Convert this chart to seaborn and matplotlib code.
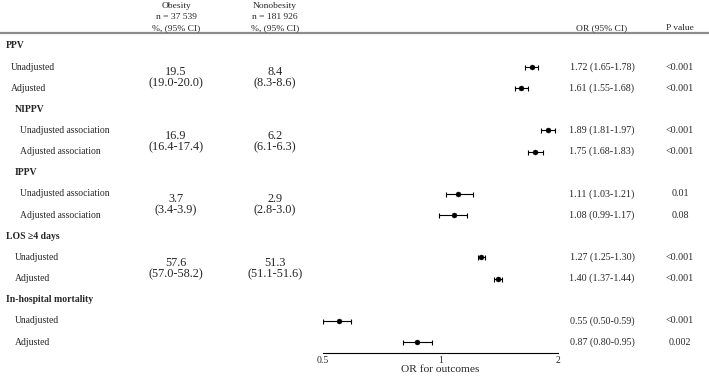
import numpy as np
import pandas as pd
import matplotlib
matplotlib.use("Agg")
import matplotlib.pyplot as plt
import matplotlib.transforms as mtransforms
from matplotlib.lines import Line2D
import seaborn as sns

# Datos de la tabla
labels = ["PPV", "Unadjusted", "Adjusted",
          "NIPPV", "Unadjusted association", "Adjusted association",
          "IPPV", "Unadjusted association", "Adjusted association",
          "LOS \u22654 days", "Unadjusted", "Adjusted",
          "In-hospital mortality", "Unadjusted", "Adjusted"]
or_est = [np.nan, 1.72, 1.61, np.nan, 1.89, 1.75, np.nan, 1.11, 1.08,
          np.nan, 1.27, 1.40, np.nan, 0.55, 0.87]
or_low = [np.nan, 1.65, 1.55, np.nan, 1.81, 1.68, np.nan, 1.03, 0.99,
          np.nan, 1.25, 1.37, np.nan, 0.50, 0.80]
or_high = [np.nan, 1.78, 1.68, np.nan, 1.97, 1.83, np.nan, 1.21, 1.17,
           np.nan, 1.30, 1.44, np.nan, 0.59, 0.95]
p_values = ["", "<0.001", "<0.001", "", "<0.001", "<0.001", "", "0.01", "0.08",
            "", "<0.001", "<0.001", "", "<0.001", "0.002"]

# porcentajes por grupo (filas Unadjusted/Adjusted de cada desenlace)
group_rows = [1, 4, 7, 10]
obesity_pct = ["19.5", "16.9", "3.7", "57.6"]
obesity_ci = ["(19.0-20.0)", "(16.4-17.4)", "(3.4-3.9)", "(57.0-58.2)"]
nonobesity_pct = ["8.4", "6.2", "2.9", "51.3"]
nonobesity_ci = ["(8.3-8.6)", "(6.1-6.3)", "(2.8-3.0)", "(51.1-51.6)"]

x_ticks = [0.5, 1, 1.5, 2]
x_ticklabels = ["0.5", "1", "", "2"]

df = pd.DataFrame({"label": labels, "OR": or_est, "low": or_low,
                   "high": or_high, "p": p_values})
df["row"] = np.arange(len(df))

sns.set_style("white")
plt.rcParams["font.family"] = ["Liberation Serif", "DejaVu Serif"]

W, H = 709, 378
fig = plt.figure(figsize=(W / 100, H / 100), dpi=100)

def fx(px):
    return px / W

def fy(py):
    return 1 - py / H

ax = fig.add_axes([fx(323), fy(353), fx(558) - fx(323), fy(32) - fy(353)])
ax.set_xscale("log")

pts = df.dropna(subset=["OR"])
ax.errorbar(pts["OR"], pts["row"],
            xerr=[pts["OR"] - pts["low"], pts["high"] - pts["OR"]],
            fmt="none", ecolor="black", elinewidth=0.8, capsize=1.8, capthick=0.8)
sns.scatterplot(data=pts, x="OR", y="row", color="black", s=13,
                edgecolor="black", ax=ax, zorder=3)

ax.set_xlim(0.5, 2)
ax.set_ylim(14.52, -0.655)
ax.set_xticks(x_ticks)
ax.set_xticklabels(x_ticklabels, fontsize=7)
ax.xaxis.set_minor_locator(matplotlib.ticker.NullLocator())
ax.tick_params(axis="x", direction="in", length=3, width=0.8, pad=2.5)
ax.set_yticks([])
ax.set_ylabel("")
ax.set_xlabel("OR for outcomes", fontsize=8.2, labelpad=0)
for s in ["top", "left", "right"]:
    ax.spines[s].set_visible(False)
ax.spines["bottom"].set_linewidth(0.8)
ax.spines["bottom"].set_color("black")
ax.patch.set_alpha(0)

trans = mtransforms.blended_transform_factory(fig.transFigure, ax.transData)

# etiquetas de filas
headers = {0: 6, 3: 15, 6: 15, 9: 6, 12: 6}
indent = {1: 11, 2: 11, 4: 20, 5: 20, 7: 20, 8: 20, 10: 15, 11: 15, 13: 15, 14: 15}
for i, lab in enumerate(labels):
    if i in headers:
        fig.text(fx(headers[i]), i, lab, transform=trans, fontsize=7,
                 fontweight="bold", va="center", ha="left")
    else:
        fig.text(fx(indent[i]), i, lab, transform=trans, fontsize=6.9,
                 va="center", ha="left")
        est = or_est[i]
        fig.text(fx(602), i, f"{est:.2f} ({or_low[i]:.2f}-{or_high[i]:.2f})",
                 transform=trans, fontsize=7.2, va="center", ha="center")
        fig.text(fx(680), i, p_values[i], transform=trans, fontsize=7.2,
                 va="center", ha="center")

for r, a, b, c, d in zip(group_rows, obesity_pct, obesity_ci,
                         nonobesity_pct, nonobesity_ci):
    fig.text(fx(176), r + 0.25, a, transform=trans, fontsize=8.8, va="center", ha="center")
    fig.text(fx(176), r + 0.78, b, transform=trans, fontsize=8.8, va="center", ha="center")
    fig.text(fx(275), r + 0.25, c, transform=trans, fontsize=8.8, va="center", ha="center")
    fig.text(fx(275), r + 0.78, d, transform=trans, fontsize=8.8, va="center", ha="center")

# encabezado
for x0, lines in [(176, ["Obesity", "n = 37 539", "%, (95% CI)"]),
                  (275, ["Nonobesity", "n = 181 926", "%, (95% CI)"])]:
    for k, t in enumerate(lines):
        fig.text(fx(x0), fy(6 + 11 * k), t, fontsize=6.8, va="center", ha="center")
fig.text(fx(602), fy(28), "OR (95% CI)", fontsize=6.8, va="center", ha="center")
fig.text(fx(680), fy(28), "P value", fontsize=6.8, va="center", ha="center")
fig.add_artist(Line2D([0, 1], [fy(33), fy(33)], color="#8c8c8c", lw=1.6,
                      transform=fig.transFigure))

fig.savefig("out.png", dpi=100, facecolor="white")
